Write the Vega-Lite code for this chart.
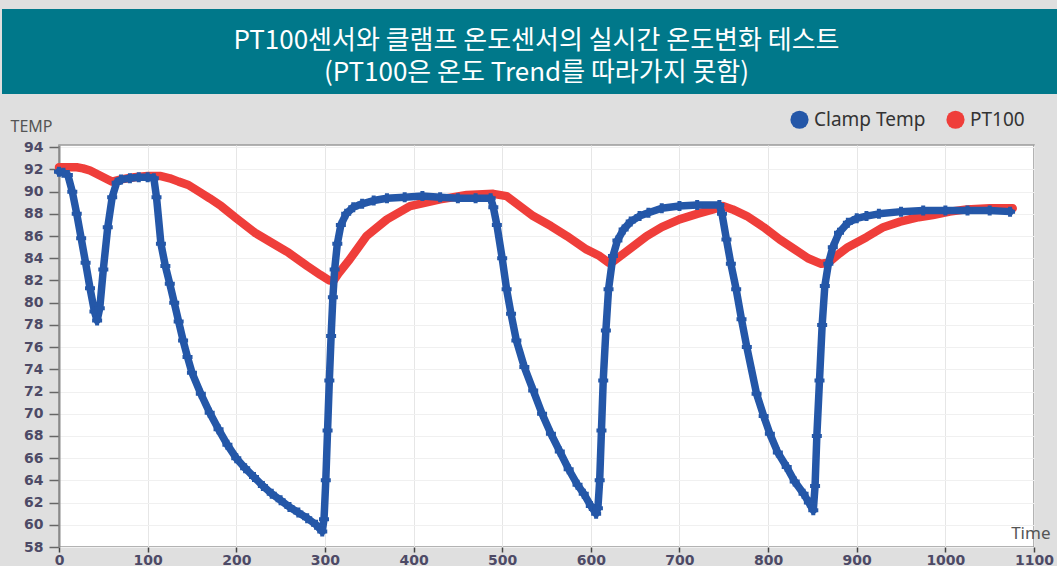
{
  "$schema": "https://vega.github.io/schema/vega-lite/v6.json",
  "background": "#dfdfdf",
  "padding": {"left": 2, "top": 9, "right": 0, "bottom": 0},
  "spacing": 51,
  "center": true,
  "bounds": "flush",
  "resolve": {"scale": {"color": "independent"}, "legend": {"color": "independent"}},
  "config": {"font": "Noto Sans"},
  "vconcat": [
    {
      "width": 1089,
      "height": 85,
      "view": {"fill": "#00788a", "stroke": null},
      "data": {"values": [
        {"row": 1, "text": "PT100센서와 클램프 온도센서의 실시간 온도변화 테스트"},
        {"row": 2, "text": "(PT100은 온도 Trend를 따라가지 못함)"}
      ]},
      "mark": {"type": "text", "color": "white", "font": "Noto Sans CJK KR", "fontSize": 26, "align": "center", "baseline": "middle", "dx": -10},
      "encoding": {
        "y": {"field": "row", "type": "quantitative", "axis": null, "scale": {"domain": [0, 2.656], "reverse": true, "nice": false, "zero": false}},
        "text": {"field": "text", "type": "nominal"}
      }
    },
    {
      "width": 975,
      "height": 402,
      "view": {"fill": "white", "stroke": "#9a9a9a", "strokeWidth": 1.5},
      "data": {"values": [
        {"series": "PT100", "t": 0, "temp": 92.2},
        {"series": "PT100", "t": 10, "temp": 92.2},
        {"series": "PT100", "t": 20, "temp": 92.2},
        {"series": "PT100", "t": 27, "temp": 92.1},
        {"series": "PT100", "t": 35, "temp": 91.9},
        {"series": "PT100", "t": 45, "temp": 91.5},
        {"series": "PT100", "t": 55, "temp": 91.1},
        {"series": "PT100", "t": 60, "temp": 90.9},
        {"series": "PT100", "t": 70, "temp": 91.1},
        {"series": "PT100", "t": 85, "temp": 91.3},
        {"series": "PT100", "t": 100, "temp": 91.4},
        {"series": "PT100", "t": 115, "temp": 91.4},
        {"series": "PT100", "t": 125, "temp": 91.2},
        {"series": "PT100", "t": 135, "temp": 90.9},
        {"series": "PT100", "t": 146, "temp": 90.6},
        {"series": "PT100", "t": 160, "temp": 89.9},
        {"series": "PT100", "t": 170, "temp": 89.4},
        {"series": "PT100", "t": 183, "temp": 88.7},
        {"series": "PT100", "t": 200, "temp": 87.6},
        {"series": "PT100", "t": 221, "temp": 86.3},
        {"series": "PT100", "t": 240, "temp": 85.4},
        {"series": "PT100", "t": 259, "temp": 84.5},
        {"series": "PT100", "t": 280, "temp": 83.3},
        {"series": "PT100", "t": 295, "temp": 82.5},
        {"series": "PT100", "t": 305, "temp": 82.0},
        {"series": "PT100", "t": 310, "temp": 82.0},
        {"series": "PT100", "t": 315, "temp": 82.6},
        {"series": "PT100", "t": 328, "temp": 83.9},
        {"series": "PT100", "t": 347, "temp": 86.0},
        {"series": "PT100", "t": 370, "temp": 87.5},
        {"series": "PT100", "t": 396, "temp": 88.7},
        {"series": "PT100", "t": 430, "temp": 89.3},
        {"series": "PT100", "t": 460, "temp": 89.7},
        {"series": "PT100", "t": 490, "temp": 89.8},
        {"series": "PT100", "t": 505, "temp": 89.6},
        {"series": "PT100", "t": 520, "temp": 88.7},
        {"series": "PT100", "t": 535, "temp": 87.8},
        {"series": "PT100", "t": 555, "temp": 86.9},
        {"series": "PT100", "t": 573, "temp": 86.0},
        {"series": "PT100", "t": 595, "temp": 84.8},
        {"series": "PT100", "t": 610, "temp": 84.2},
        {"series": "PT100", "t": 620, "temp": 83.6},
        {"series": "PT100", "t": 625, "temp": 83.7},
        {"series": "PT100", "t": 640, "temp": 84.6},
        {"series": "PT100", "t": 663, "temp": 86.0},
        {"series": "PT100", "t": 680, "temp": 86.8},
        {"series": "PT100", "t": 700, "temp": 87.5},
        {"series": "PT100", "t": 720, "temp": 88.0},
        {"series": "PT100", "t": 738, "temp": 88.4},
        {"series": "PT100", "t": 749, "temp": 88.7},
        {"series": "PT100", "t": 760, "temp": 88.4},
        {"series": "PT100", "t": 776, "temp": 87.8},
        {"series": "PT100", "t": 795, "temp": 86.8},
        {"series": "PT100", "t": 813, "temp": 85.7},
        {"series": "PT100", "t": 830, "temp": 84.8},
        {"series": "PT100", "t": 845, "temp": 84.0},
        {"series": "PT100", "t": 860, "temp": 83.5},
        {"series": "PT100", "t": 868, "temp": 83.6},
        {"series": "PT100", "t": 880, "temp": 84.4},
        {"series": "PT100", "t": 890, "temp": 85.0},
        {"series": "PT100", "t": 911, "temp": 85.9},
        {"series": "PT100", "t": 930, "temp": 86.8},
        {"series": "PT100", "t": 949, "temp": 87.3},
        {"series": "PT100", "t": 970, "temp": 87.7},
        {"series": "PT100", "t": 986, "temp": 87.9},
        {"series": "PT100", "t": 1005, "temp": 88.2},
        {"series": "PT100", "t": 1024, "temp": 88.4},
        {"series": "PT100", "t": 1050, "temp": 88.5},
        {"series": "PT100", "t": 1076, "temp": 88.5},
        {"series": "Clamp Temp", "t": 0, "temp": 91.8},
        {"series": "Clamp Temp", "t": 5, "temp": 91.7},
        {"series": "Clamp Temp", "t": 10, "temp": 91.5},
        {"series": "Clamp Temp", "t": 15, "temp": 90.0},
        {"series": "Clamp Temp", "t": 20, "temp": 88.0},
        {"series": "Clamp Temp", "t": 25, "temp": 85.8},
        {"series": "Clamp Temp", "t": 30, "temp": 83.6},
        {"series": "Clamp Temp", "t": 35, "temp": 81.3},
        {"series": "Clamp Temp", "t": 40, "temp": 79.2},
        {"series": "Clamp Temp", "t": 43, "temp": 78.4},
        {"series": "Clamp Temp", "t": 46, "temp": 79.5},
        {"series": "Clamp Temp", "t": 50, "temp": 83.0},
        {"series": "Clamp Temp", "t": 55, "temp": 86.8},
        {"series": "Clamp Temp", "t": 60, "temp": 89.5},
        {"series": "Clamp Temp", "t": 65, "temp": 90.8},
        {"series": "Clamp Temp", "t": 70, "temp": 91.1},
        {"series": "Clamp Temp", "t": 80, "temp": 91.2},
        {"series": "Clamp Temp", "t": 90, "temp": 91.3},
        {"series": "Clamp Temp", "t": 100, "temp": 91.3},
        {"series": "Clamp Temp", "t": 107, "temp": 91.2},
        {"series": "Clamp Temp", "t": 110, "temp": 89.5},
        {"series": "Clamp Temp", "t": 115, "temp": 85.3},
        {"series": "Clamp Temp", "t": 120, "temp": 83.3},
        {"series": "Clamp Temp", "t": 125, "temp": 81.7},
        {"series": "Clamp Temp", "t": 130, "temp": 80.0},
        {"series": "Clamp Temp", "t": 135, "temp": 78.3},
        {"series": "Clamp Temp", "t": 140, "temp": 76.6},
        {"series": "Clamp Temp", "t": 145, "temp": 75.1},
        {"series": "Clamp Temp", "t": 150, "temp": 73.7},
        {"series": "Clamp Temp", "t": 160, "temp": 71.8},
        {"series": "Clamp Temp", "t": 170, "temp": 70.1},
        {"series": "Clamp Temp", "t": 180, "temp": 68.6},
        {"series": "Clamp Temp", "t": 190, "temp": 67.2},
        {"series": "Clamp Temp", "t": 200, "temp": 66.0},
        {"series": "Clamp Temp", "t": 210, "temp": 65.1},
        {"series": "Clamp Temp", "t": 220, "temp": 64.3},
        {"series": "Clamp Temp", "t": 230, "temp": 63.5},
        {"series": "Clamp Temp", "t": 240, "temp": 62.8},
        {"series": "Clamp Temp", "t": 250, "temp": 62.2},
        {"series": "Clamp Temp", "t": 260, "temp": 61.6},
        {"series": "Clamp Temp", "t": 270, "temp": 61.1},
        {"series": "Clamp Temp", "t": 280, "temp": 60.6},
        {"series": "Clamp Temp", "t": 290, "temp": 60.0},
        {"series": "Clamp Temp", "t": 297, "temp": 59.4},
        {"series": "Clamp Temp", "t": 299, "temp": 60.5},
        {"series": "Clamp Temp", "t": 301, "temp": 64.0},
        {"series": "Clamp Temp", "t": 303, "temp": 68.5},
        {"series": "Clamp Temp", "t": 305, "temp": 73.0},
        {"series": "Clamp Temp", "t": 307, "temp": 77.0},
        {"series": "Clamp Temp", "t": 309, "temp": 80.5},
        {"series": "Clamp Temp", "t": 311, "temp": 83.0},
        {"series": "Clamp Temp", "t": 314, "temp": 85.3},
        {"series": "Clamp Temp", "t": 318, "temp": 87.0},
        {"series": "Clamp Temp", "t": 324, "temp": 88.0},
        {"series": "Clamp Temp", "t": 332, "temp": 88.6},
        {"series": "Clamp Temp", "t": 342, "temp": 88.9},
        {"series": "Clamp Temp", "t": 355, "temp": 89.2},
        {"series": "Clamp Temp", "t": 370, "temp": 89.4},
        {"series": "Clamp Temp", "t": 390, "temp": 89.5},
        {"series": "Clamp Temp", "t": 410, "temp": 89.6},
        {"series": "Clamp Temp", "t": 430, "temp": 89.5},
        {"series": "Clamp Temp", "t": 450, "temp": 89.4},
        {"series": "Clamp Temp", "t": 470, "temp": 89.4},
        {"series": "Clamp Temp", "t": 487, "temp": 89.4},
        {"series": "Clamp Temp", "t": 490, "temp": 88.6},
        {"series": "Clamp Temp", "t": 494, "temp": 87.0},
        {"series": "Clamp Temp", "t": 500, "temp": 84.0},
        {"series": "Clamp Temp", "t": 505, "temp": 81.2},
        {"series": "Clamp Temp", "t": 510, "temp": 79.0},
        {"series": "Clamp Temp", "t": 516, "temp": 76.6},
        {"series": "Clamp Temp", "t": 525, "temp": 74.2},
        {"series": "Clamp Temp", "t": 535, "temp": 72.1},
        {"series": "Clamp Temp", "t": 545, "temp": 70.0},
        {"series": "Clamp Temp", "t": 555, "temp": 68.2},
        {"series": "Clamp Temp", "t": 565, "temp": 66.6},
        {"series": "Clamp Temp", "t": 575, "temp": 65.0},
        {"series": "Clamp Temp", "t": 585, "temp": 63.6},
        {"series": "Clamp Temp", "t": 592, "temp": 62.8},
        {"series": "Clamp Temp", "t": 600, "temp": 61.7},
        {"series": "Clamp Temp", "t": 606, "temp": 61.0},
        {"series": "Clamp Temp", "t": 608, "temp": 61.5},
        {"series": "Clamp Temp", "t": 610, "temp": 64.0},
        {"series": "Clamp Temp", "t": 612, "temp": 68.5},
        {"series": "Clamp Temp", "t": 614, "temp": 73.0},
        {"series": "Clamp Temp", "t": 617, "temp": 77.5},
        {"series": "Clamp Temp", "t": 620, "temp": 81.2},
        {"series": "Clamp Temp", "t": 625, "temp": 84.2},
        {"series": "Clamp Temp", "t": 630, "temp": 85.6},
        {"series": "Clamp Temp", "t": 637, "temp": 86.6},
        {"series": "Clamp Temp", "t": 645, "temp": 87.3},
        {"series": "Clamp Temp", "t": 655, "temp": 87.8},
        {"series": "Clamp Temp", "t": 665, "temp": 88.1},
        {"series": "Clamp Temp", "t": 680, "temp": 88.5},
        {"series": "Clamp Temp", "t": 700, "temp": 88.7},
        {"series": "Clamp Temp", "t": 720, "temp": 88.8},
        {"series": "Clamp Temp", "t": 745, "temp": 88.8},
        {"series": "Clamp Temp", "t": 748, "temp": 88.0},
        {"series": "Clamp Temp", "t": 753, "temp": 85.7},
        {"series": "Clamp Temp", "t": 758, "temp": 83.5},
        {"series": "Clamp Temp", "t": 764, "temp": 81.2},
        {"series": "Clamp Temp", "t": 770, "temp": 78.5},
        {"series": "Clamp Temp", "t": 776, "temp": 76.0},
        {"series": "Clamp Temp", "t": 787, "temp": 71.8},
        {"series": "Clamp Temp", "t": 795, "temp": 69.8},
        {"series": "Clamp Temp", "t": 802, "temp": 68.2},
        {"series": "Clamp Temp", "t": 811, "temp": 66.5},
        {"series": "Clamp Temp", "t": 821, "temp": 65.2},
        {"series": "Clamp Temp", "t": 830, "temp": 63.9},
        {"series": "Clamp Temp", "t": 840, "temp": 62.8},
        {"series": "Clamp Temp", "t": 846, "temp": 62.0},
        {"series": "Clamp Temp", "t": 851, "temp": 61.3},
        {"series": "Clamp Temp", "t": 853, "temp": 63.5},
        {"series": "Clamp Temp", "t": 855, "temp": 68.0},
        {"series": "Clamp Temp", "t": 858, "temp": 73.0},
        {"series": "Clamp Temp", "t": 861, "temp": 78.0},
        {"series": "Clamp Temp", "t": 864, "temp": 81.5},
        {"series": "Clamp Temp", "t": 868, "temp": 83.5},
        {"series": "Clamp Temp", "t": 873, "temp": 85.0},
        {"series": "Clamp Temp", "t": 880, "temp": 86.3},
        {"series": "Clamp Temp", "t": 890, "temp": 87.2},
        {"series": "Clamp Temp", "t": 900, "temp": 87.6},
        {"series": "Clamp Temp", "t": 911, "temp": 87.8},
        {"series": "Clamp Temp", "t": 925, "temp": 88.0},
        {"series": "Clamp Temp", "t": 950, "temp": 88.2},
        {"series": "Clamp Temp", "t": 975, "temp": 88.3},
        {"series": "Clamp Temp", "t": 1000, "temp": 88.3},
        {"series": "Clamp Temp", "t": 1025, "temp": 88.3},
        {"series": "Clamp Temp", "t": 1050, "temp": 88.3},
        {"series": "Clamp Temp", "t": 1073, "temp": 88.2}
      ]},
      "encoding": {
        "x": {
          "field": "t", "type": "quantitative",
          "scale": {"domain": [0, 1100], "nice": false, "zero": false},
          "axis": {
            "values": [0, 100, 200, 300, 400, 500, 600, 700, 800, 900, 1000, 1100],
            "format": "d",
            "domain": false,
            "grid": true, "gridColor": "#e6e6e6", "gridWidth": 1,
            "ticks": true, "tickSize": 5, "tickColor": "#444", "tickWidth": 1.5,
            "labelFont": "DejaVu Sans", "labelFontWeight": "bold", "labelFontSize": 14,
            "labelColor": "#4d4a66", "labelPadding": 1, "labelFlush": false,
            "title": "Time", "titleFont": "Noto Sans", "titleFontSize": 17, "titleFontWeight": "normal",
            "titleColor": "#555", "titleX": 991, "titleY": -9, "titleAlign": "right", "titleBaseline": "alphabetic"
          }
        },
        "y": {
          "field": "temp", "type": "quantitative",
          "scale": {"domain": [58, 94.2], "nice": false, "zero": false},
          "axis": {
            "values": [58, 60, 62, 64, 66, 68, 70, 72, 74, 76, 78, 80, 82, 84, 86, 88, 90, 92, 94],
            "domain": true, "domainColor": "#8a8a8a", "domainWidth": 2,
            "grid": true, "gridColor": "#f0f0f0", "gridWidth": 1,
            "ticks": true, "tickSize": 10, "tickColor": "#666", "tickWidth": 1.5,
            "labelFont": "DejaVu Sans", "labelFontWeight": "bold", "labelFontSize": 14,
            "labelColor": "#4d4a66", "labelPadding": 6, "labelFlush": false,
            "title": "TEMP", "titleFont": "Noto Sans", "titleFontSize": 16, "titleFontWeight": "normal",
            "titleColor": "#555", "titleAngle": 0, "titleX": -49, "titleY": -14, "titleAlign": "left", "titleBaseline": "alphabetic"
          }
        }
      },
      "layer": [
        {
          "transform": [{"filter": "datum.series === 'PT100'"}],
          "mark": {"type": "line", "color": "#ef3e3a", "strokeWidth": 8.5, "strokeCap": "round", "strokeJoin": "round"}
        },
        {
          "transform": [{"filter": "datum.series === 'Clamp Temp'"}],
          "mark": {"type": "line", "color": "#2457a8", "strokeWidth": 7.5, "strokeCap": "round", "strokeJoin": "round"}
        },
        {
          "transform": [{"filter": "datum.series === 'Clamp Temp'"}],
          "mark": {"type": "point", "shape": "cross", "filled": true, "size": 100, "opacity": 1},
          "encoding": {
            "color": {
              "field": "series", "type": "nominal",
              "scale": {"domain": ["Clamp Temp", "PT100"], "range": ["#2457a8", "#ef3e3a"]},
              "legend": {
                "title": null, "orient": "none", "legendX": 731, "legendY": -35,
                "direction": "horizontal", "columns": 2,
                "symbolType": "circle", "symbolSize": 330, "symbolStrokeWidth": 0,
                "labelFont": "Noto Sans", "labelFontSize": 19, "labelColor": "#333",
                "labelOffset": 5, "columnPadding": 20
              }
            }
          }
        }
      ]
    }
  ]
}
